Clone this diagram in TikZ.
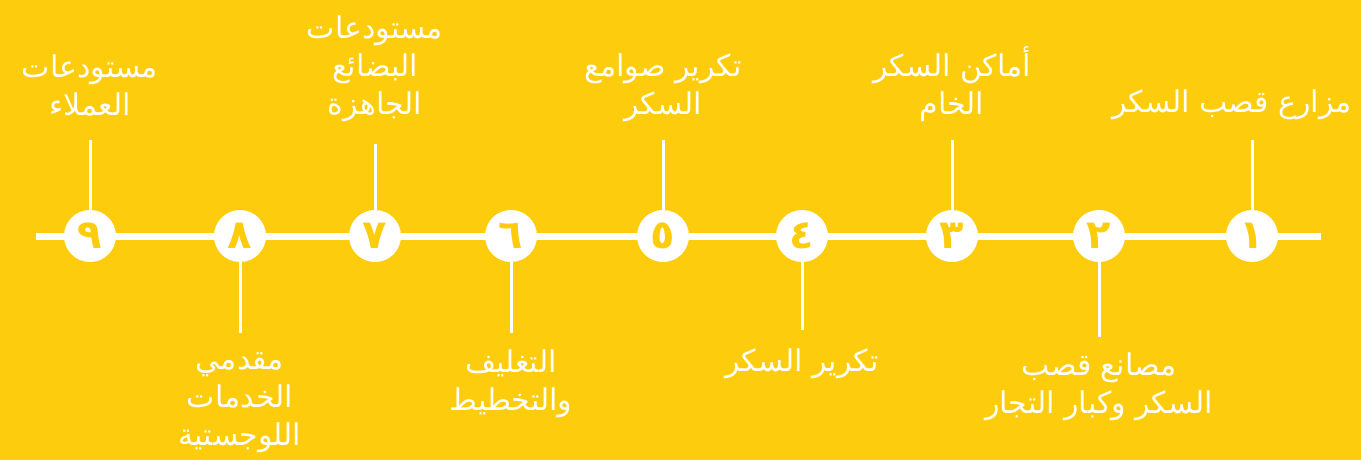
\documentclass[tikz,border=0pt]{standalone}
\usepackage{fontspec}
\usetikzlibrary{positioning}
\newfontfamily\arabicfont[Script=Arabic]{DejaVu Sans}
\TeXXeTstate=1
\definecolor{sugaryellow}{RGB}{253,204,13}
\newcommand{\rtl}[1]{\beginR #1\endR}

\begin{document}
\begin{tikzpicture}[x=1pt,y=-1pt]
    \tikzset{
        stepdot/.style={
            circle, fill=white, minimum size=52pt, inner sep=0pt,
            text=sugaryellow, font=\arabicfont\bfseries\fontsize{40}{40}\selectfont,
        },
        steplabel/.style={
            text=white, align=center, inner sep=0pt,
            font=\arabicfont\fontsize{30}{38}\selectfont,
        },
        stem/.style={white, line width=3pt},
        timeline/.style={white, line width=7pt},
    }

    % Background
    \fill[sugaryellow] (0,0) rectangle (1361,460);
    \useasboundingbox (0,0) rectangle (1361,460);

    % Line
    \coordinate (start) at (36,236);
    \coordinate (end) at (1321,236);
    \draw[timeline] (start) -- (end);

    % Steps
    \node[stepdot] (c1) at (1252,236) {١};
    \node[stepdot] (c2) at (1099,236) {٢};
    \node[stepdot] (c3) at (952,236) {٣};
    \node[stepdot] (c4) at (802,236) {٤};
    \node[stepdot] (c5) at (663,236) {٥};
    \node[stepdot] (c6) at (511,236) {٦};
    \node[stepdot] (c7) at (375,236) {٧};
    \node[stepdot] (c8) at (240,236) {٨};
    \node[stepdot] (c9) at (90,236) {٩};

    % Stem ends
    \coordinate (t1) at (1252,140);
    \coordinate (t2) at (1099,337);
    \coordinate (t3) at (952,140);
    \coordinate (t4) at (802,330);
    \coordinate (t5) at (663,140);
    \coordinate (t6) at (511,333);
    \coordinate (t7) at (375,144);
    \coordinate (t8) at (240,333);
    \coordinate (t9) at (90,140);

    % Labels
    \node[steplabel, above=20pt of t1, xshift=-20pt] (l1) {\rtl{مزارع قصب السكر}};
    \node[steplabel, below=16pt of t2] (l2) {\rtl{مصانع قصب}\\\rtl{السكر وكبار التجار}};
    \node[steplabel, above=18pt of t3] (l3) {\rtl{أماكن السكر}\\\rtl{الخام}};
    \node[steplabel, below=19pt of t4] (l4) {\rtl{تكرير السكر}};
    \node[steplabel, below=17pt of t6] (l6) {\rtl{التغليف}\\\rtl{والتخطيط}};
    \node[steplabel, above=18pt of t5] (l5) {\rtl{تكرير صوامع}\\\rtl{السكر}};
    \node[steplabel, above=22pt of t7] (l7) {\rtl{مستودعات}\\\rtl{البضائع}\\\rtl{الجاهزة}};
    \node[steplabel, above=24pt of t9] (l9) {\rtl{مستودعات}\\\rtl{العملاء}};
    \node[steplabel, below=19pt of t8] (l8) {\rtl{مقدمي}\\\rtl{الخدمات}\\\rtl{اللوجستية}};

    % Stems
    \draw[stem] (c1) -- (t1);
    \draw[stem] (c2) -- (t2);
    \draw[stem] (c3) -- (t3);
    \draw[stem] (c4) -- (t4);
    \draw[stem] (c5) -- (t5);
    \draw[stem] (c6) -- (t6);
    \draw[stem] (c7) -- (t7);
    \draw[stem] (c8) -- (t8);
    \draw[stem] (c9) -- (t9);
\end{tikzpicture}
\end{document}
